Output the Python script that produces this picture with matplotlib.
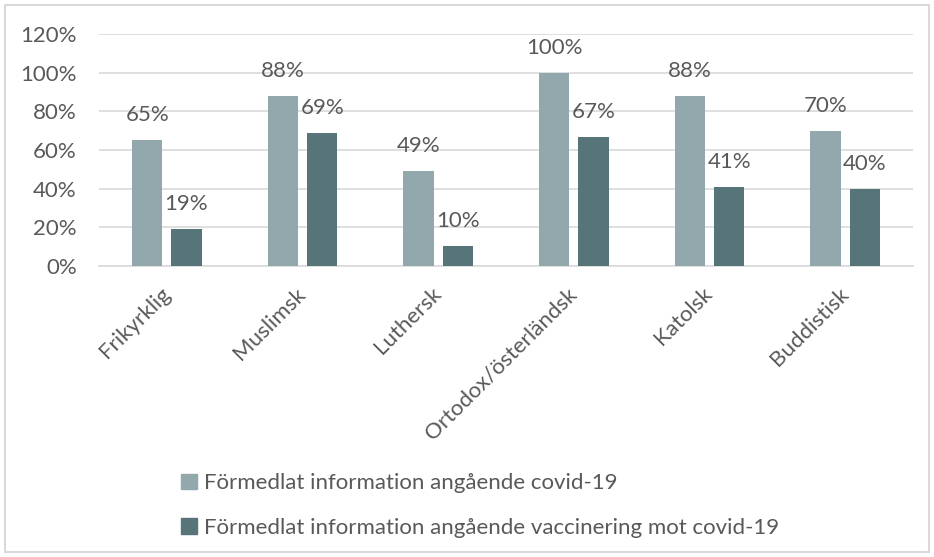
import matplotlib

matplotlib.use("Agg")
import matplotlib.pyplot as plt
import numpy as np
from matplotlib.patches import Patch, Rectangle

# Data
categories = ["Frikyrklig", "Muslimsk", "Luthersk", "Ortodox/österländsk", "Katolsk", "Buddistisk"]
covid_info = [65, 88, 49, 100, 88, 70]
vaccine_info = [19, 69, 10, 67, 41, 40]
series_labels = [
    "Förmedlat information angående covid-19",
    "Förmedlat information angående vaccinering mot covid-19",
]
y_ticks = [0, 20, 40, 60, 80, 100, 120]

LIGHT = "#93A8AD"
DARK = "#577478"
TEXT = "#595959"
GRID = "#D9D9D9"
FS = 16

plt.rcParams["font.family"] = ["Lato", "DejaVu Sans"]

fig = plt.figure(figsize=(9.34, 5.57), dpi=100)
ax = fig.add_axes([0.106, 0.523, 0.8715, 0.4154])

x = np.arange(len(categories))
width = 0.225
offset = 0.145
bars1 = ax.bar(x - offset, covid_info, width, color=LIGHT, zorder=3)
bars2 = ax.bar(x + offset, vaccine_info, width, color=DARK, zorder=3)

# value labels just above each bar
for bars, values in ((bars1, covid_info), (bars2, vaccine_info)):
    for bar, v in zip(bars, values):
        ax.annotate(f"{v}%", (bar.get_x() + bar.get_width() / 2, v),
                    xytext=(0, 18), textcoords="offset points",
                    ha="center", va="center", fontsize=FS, color=TEXT)

ax.set_xlim(-0.5, len(categories) - 0.5)
ax.set_ylim(0, 120)
ax.set_yticks(y_ticks)
ax.set_yticklabels([f"{t}%" for t in y_ticks])
ax.yaxis.grid(True, color=GRID, linewidth=1.2, zorder=0)
ax.tick_params(axis="y", length=0, pad=16, labelsize=FS, labelcolor=TEXT)
ax.tick_params(axis="x", length=0, pad=18, labelsize=FS, labelcolor=TEXT)
ax.set_xticks(x)
ax.set_xticklabels(categories, rotation=45, ha="right", va="center", rotation_mode="anchor")
for side in ("top", "right", "left"):
    ax.spines[side].set_visible(False)
ax.spines["bottom"].set_color(GRID)
ax.spines["bottom"].set_linewidth(1.2)

handles = [Patch(color=LIGHT), Patch(color=DARK)]
fig.legend(handles, series_labels, loc="upper left", bbox_to_anchor=(0.182, 0.17),
           frameon=False, fontsize=FS, labelcolor=TEXT, handlelength=0.7,
           handleheight=0.7, handletextpad=0.35, labelspacing=1.1, borderpad=0)

# light frame around the whole chart
fig.patches.append(Rectangle((5 / 934, 5 / 557), 924 / 934, 547 / 557, transform=fig.transFigure,
                             fill=False, edgecolor=GRID, linewidth=1.5))

fig.savefig("out.png", dpi=100)
